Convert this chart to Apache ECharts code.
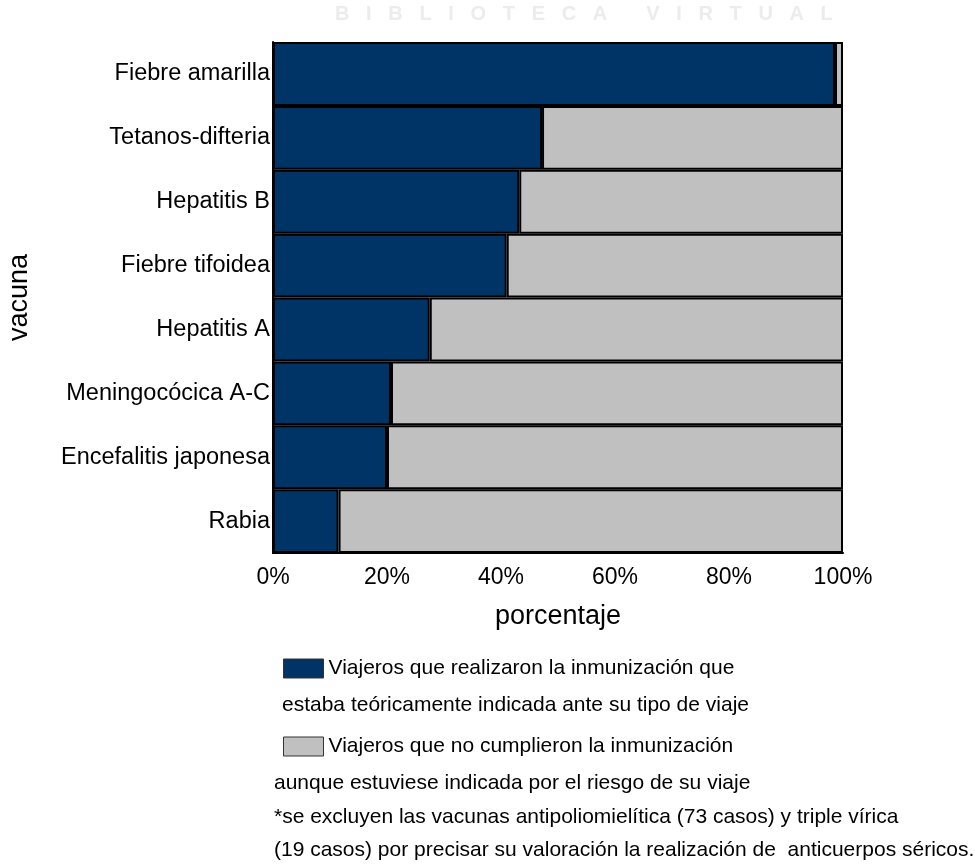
<!DOCTYPE html>
<html>
<head>
<meta charset="utf-8">
<script src="https://cdn.jsdelivr.net/npm/echarts@6/dist/echarts.min.js"></script>
<style>html,body{margin:0;padding:0;background:#fff;}#c{width:975px;height:864px;}</style>
</head>
<body>
<div id="c"></div>
<script>
const categories = ['Fiebre amarilla','Tetanos-difteria','Hepatitis B','Fiebre tifoidea','Hepatitis A','Meningocócica A-C','Encefalitis japonesa','Rabia'];
const realizaron = [98.6, 47.2, 43.2, 41.0, 27.5, 20.7, 20.0, 11.5];
const noCumplieron = [1.4, 52.8, 56.8, 59.0, 72.5, 79.3, 80.0, 88.5];
const xTicks = [0, 20, 40, 60, 80, 100];
const serieNames = ['Viajeros que realizaron la inmunización que', 'Viajeros que no cumplieron la inmunización'];
const notes = [
  'estaba teóricamente indicada ante su tipo de viaje',
  'aunque estuviese indicada por el riesgo de su viaje',
  '*se excluyen las vacunas antipoliomielítica (73 casos) y triple vírica',
  '(19 casos) por precisar su valoración la realización de  anticuerpos séricos.'
];
const FONT = '"Liberation Sans", Arial, sans-serif';
const chart = echarts.init(document.getElementById('c'));
chart.setOption({
  backgroundColor: '#fff',
  animation: false,
  textStyle: { fontFamily: FONT },
  grid: { left: 273, top: 42, right: 132, bottom: 311, containLabel: false, outerBoundsMode: 'none' },
  xAxis: {
    type: 'value', min: xTicks[0], max: xTicks[xTicks.length - 1], interval: 20,
    axisLabel: { formatter: '{value}%', fontSize: 23, color: '#000', margin: 13, fontFamily: FONT },
    axisLine: { show: true, lineStyle: { color: '#000', width: 2 } },
    axisTick: { show: false },
    splitLine: { show: false },
    name: 'porcentaje', nameLocation: 'middle', nameGap: 50,
    nameTextStyle: { fontSize: 27, color: '#000', fontFamily: FONT }
  },
  yAxis: {
    type: 'category', data: categories, inverse: true,
    axisLabel: { fontSize: 23.5, color: '#000', margin: 3, fontFamily: FONT },
    axisLine: { show: true, lineStyle: { color: '#000', width: 2 } },
    axisTick: { show: false },
    name: 'vacuna', nameLocation: 'middle', nameGap: 240, nameRotate: 90,
    nameTextStyle: { fontSize: 27, color: '#000', fontFamily: FONT }
  },
  legend: {
    orient: 'vertical', left: 283, top: 658, padding: 0,
    itemWidth: 40, itemHeight: 19, itemGap: 57,
    icon: 'rect',
    textStyle: { fontSize: 21, color: '#000', fontFamily: FONT },
    itemStyle: { borderColor: '#333', borderWidth: 1 },
    data: serieNames
  },
  series: [
    { name: serieNames[0], type: 'bar', stack: 'total', data: realizaron, barCategoryGap: '0%',
      itemStyle: { color: '#003366', borderColor: '#000', borderWidth: 2 } },
    { name: serieNames[1], type: 'bar', stack: 'total', data: noCumplieron, barCategoryGap: '0%',
      itemStyle: { color: '#c0c0c0', borderColor: '#000', borderWidth: 2 } }
  ],
  graphic: [
    { type: 'text', left: 335, top: 4, silent: true,
      style: { text: 'B   I   B   L   I   O   T   E   C   A       V   I   R   T   U   A   L', fontSize: 20, fontWeight: 'bold', fill: '#ececec', fontFamily: FONT } },
    { type: 'text', left: 282, top: 707 - 12, style: { text: notes[0], fontSize: 21, fill: '#000', fontFamily: FONT } },
    { type: 'text', left: 274, top: 785 - 12, style: { text: notes[1], fontSize: 21, fill: '#000', fontFamily: FONT } },
    { type: 'text', left: 274, top: 819 - 12, style: { text: notes[2], fontSize: 21, fill: '#000', fontFamily: FONT } },
    { type: 'text', left: 274, top: 852 - 12, style: { text: notes[3], fontSize: 21, fill: '#000', fontFamily: FONT } }
  ]
});
</script>
</body>
</html>
